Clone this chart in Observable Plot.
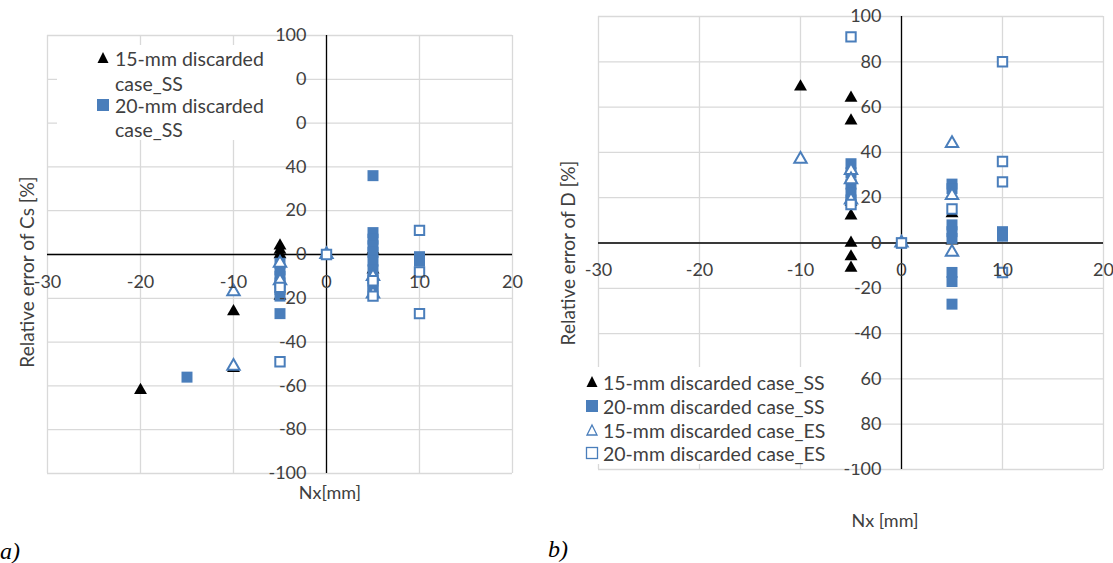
<!DOCTYPE html>
<html><head><meta charset="utf-8">
<script src="https://cdn.jsdelivr.net/npm/d3@7"></script>
<script src="https://cdn.jsdelivr.net/npm/@observablehq/plot@0.6"></script>
<style>
body{margin:0;background:#fff;}
#wrap{position:relative;width:1113px;height:563px;overflow:hidden;font-family:Lato,sans-serif;color:#404040;background:#fff;}
.panel{position:absolute;top:0;}
.ytitle{position:absolute;transform:translate(-50%,-50%) rotate(-90deg);white-space:nowrap;font-size:19px;}
.xtitle{position:absolute;transform:translate(-50%,-50%);white-space:nowrap;font-size:18px;}
.tag{position:absolute;font-family:"Liberation Serif",serif;font-style:italic;font-size:24px;color:#000;transform:translateY(-50%);}
.legbox{position:absolute;background:#fff;}
.leg{position:absolute;white-space:nowrap;font-size:19.5px;transform:translateY(-50%);line-height:1;}
.sw{position:absolute;transform:translate(-50%,-50%);}
</style></head><body><div id="wrap"></div>
<script>
// ---- shared ticks ----
const xTicks = [-30, -20, -10, 0, 10, 20];
const yTicks = [-100, -80, -60, -40, -20, 0, 20, 40, 60, 80, 100];

// ---- panel a) relative error of Cs ----
const a_tri15SS_x = [-20, -10, -10, -5, -5, -5, -5, 0, 5, 5];
const a_tri15SS_y = [-62, -26, -52, 4, 2, 0, -19, 0, 2, -7];
const a_sq20SS_x = [-15, -5, -5, -5, -5, -5, -5, -5, 0, 5, 5, 5, 5, 5, 5, 5, 5, 5, 5, 10, 10];
const a_sq20SS_y = [-56, -4, -7, -10, -13, -16, -19, -27, 0, 36, 10, 7, 4, 1, -3, -7, -11, -14, -17, -1, -3];
const a_tri15ES_x = [-10, -10, -5, -5, 0, 5, 5];
const a_tri15ES_y = [-17, -51, -4, -12, 0, -10, -18];
const a_sq20ES_x = [-5, -5, 0, 5, 5, 10, 10, 10];
const a_sq20ES_y = [-49, -15, 0, -12, -19, 11, -8, -27];

// ---- panel b) relative error of D ----
const b_tri15SS_x = [-10, -5, -5, -5, -5, -5, -5, -5, 0, 5, 5];
const b_tri15SS_y = [69, 64, 54, 18, 12, 0, -6, -11, 0, 13, 1];
const b_sq20SS_x = [-5, -5, -5, -5, -5, 0, 5, 5, 5, 5, 5, 5, 5, 5, 10, 10];
const b_sq20SS_y = [35, 31, 26, 22, 19, 0, 26, 24, 8, 5, 2, -13, -17, -27, 5, 3];
const b_tri15ES_x = [-10, -5, -5, -5, 0, 5, 5, 5];
const b_tri15ES_y = [37, 32, 28, 19, 0, 44, 21, -4];
const b_sq20ES_x = [-5, -5, 0, 5, 10, 10, 10, 10];
const b_sq20ES_y = [91, 17, 0, 15, 80, 36, 27, -13];

const seriesNames = ["15-mm discarded case_SS", "20-mm discarded case_SS", "15-mm discarded case_ES", "20-mm discarded case_ES"];

const BLUE = "#4a7ebb";
const TXT = "#404040";
const pts = (xs, ys) => xs.map((x, i) => ({x, y: ys[i]}));

function makePanel(opt, s) {
  return Plot.plot({
    width: opt.width, height: 563,
    marginLeft: opt.ml, marginRight: opt.mr, marginTop: opt.mt, marginBottom: opt.mb,
    x: {domain: [-30, 20], axis: null},
    y: {domain: [-100, 100], axis: null},
    style: {background: "transparent", overflow: "visible"},
    marks: [
      Plot.ruleY(yTicks, {stroke: "#d9d9d9", strokeWidth: 1.3}),
      Plot.ruleX(xTicks, {stroke: "#d9d9d9", strokeWidth: 1.3}),
      Plot.ruleY([0], {stroke: "#000", strokeWidth: 1.3}),
      Plot.ruleX([0], {stroke: "#000", strokeWidth: 1.3}),
      Plot.dot(pts(s[0], s[1]), {x: "x", y: "y", symbol: "triangle", r: 4.8, fill: "#000", stroke: "none"}),
      Plot.dot(pts(s[2], s[3]), {x: "x", y: "y", symbol: "square", r: 6.2, fill: BLUE, stroke: "none"}),
      Plot.dot(pts(s[4], s[5]), {x: "x", y: "y", symbol: "triangle", r: 4.6, fill: "#fff", stroke: BLUE, strokeWidth: 2}),
      Plot.dot(pts(s[6], s[7]), {x: "x", y: "y", symbol: "square", r: 5.3, fill: "#fff", stroke: BLUE, strokeWidth: 2}),
      Plot.text(xTicks, {x: d => d, y: 0, text: d => String(d), dy: opt.xdy, fontSize: 18, fill: TXT, fontFamily: "Lato"}),
      Plot.text(yTicks, {x: 0, y: d => d, text: d => String(d), dx: -20, textAnchor: "end", fontSize: 18, fill: TXT, fontFamily: "Lato"})
    ]
  });
}

const wrap = document.getElementById("wrap");
function place(el, left) { const d = document.createElement("div"); d.className = "panel"; d.style.left = left + "px"; d.appendChild(el); wrap.appendChild(d); }

place(makePanel({width: 540, ml: 47, mr: 28, mt: 35, mb: 90, xdy: 28},
  [a_tri15SS_x, a_tri15SS_y, a_sq20SS_x, a_sq20SS_y, a_tri15ES_x, a_tri15ES_y, a_sq20ES_x, a_sq20ES_y]), 0);
place(makePanel({width: 573, ml: 58, mr: 10, mt: 16, mb: 94, xdy: 27},
  [b_tri15SS_x, b_tri15SS_y, b_sq20SS_x, b_sq20SS_y, b_tri15ES_x, b_tri15ES_y, b_sq20ES_x, b_sq20ES_y]), 540);

function add(cls, text, left, top, extra) {
  const d = document.createElement("div"); d.className = cls; d.textContent = text;
  d.style.left = left + "px"; d.style.top = top + "px";
  if (extra) Object.assign(d.style, extra);
  wrap.appendChild(d); return d;
}
function swatch(kind, cx, cy) {
  const ns = "http://www.w3.org/2000/svg";
  const svg = document.createElementNS(ns, "svg");
  svg.setAttribute("width", 16); svg.setAttribute("height", 16); svg.setAttribute("class", "sw");
  svg.style.left = cx + "px"; svg.style.top = cy + "px"; svg.style.position = "absolute";
  let shape;
  if (kind[0] === "t") { shape = document.createElementNS(ns, "path"); shape.setAttribute("d", kind === "tf" ? "M8,2 L13.5,13 L2.5,13 Z" : "M8,3 L13,13 L3,13 Z"); }
  else { shape = document.createElementNS(ns, "rect"); if (kind === "sf") { shape.setAttribute("x", 2); shape.setAttribute("y", 2); shape.setAttribute("width", 12); shape.setAttribute("height", 12); } else { shape.setAttribute("x", 2.5); shape.setAttribute("y", 2.5); shape.setAttribute("width", 11); shape.setAttribute("height", 11); } }
  if (kind === "tf") shape.setAttribute("fill", "#000");
  else if (kind === "sf") shape.setAttribute("fill", BLUE);
  else { shape.setAttribute("fill", "#fff"); shape.setAttribute("stroke", BLUE); shape.setAttribute("stroke-width", 1.3); }
  svg.appendChild(shape); wrap.appendChild(svg);
}

// legend a
add("legbox", "", 57, 45, {width: "239px", height: "95px"});
swatch("tf", 103, 58); add("leg", "15-mm discarded", 115, 59);
add("leg", "case_SS", 115, 84);
swatch("sf", 103, 105); add("leg", "20-mm discarded", 115, 106);
add("leg", "case_SS", 115, 130);

// legend b
add("legbox", "", 584, 367, {width: "277px", height: "97px"});
const kinds = ["tf", "sf", "to", "so"];
const rowsY = [382, 406, 430, 453];
seriesNames.forEach((n, i) => { swatch(kinds[i], 592, rowsY[i]); add("leg", n, 603, rowsY[i] + 1); });

// axis titles
add("ytitle", "Relative error of  Cs [%]", 26, 272);
add("ytitle", "Relative error of  D [%]", 567, 253);
add("xtitle", "Nx[mm]", 330, 492);
add("xtitle", "Nx [mm]", 885, 520);
add("tag", "a)", 0, 551);
add("tag", "b)", 548, 549);
</script></body></html>
